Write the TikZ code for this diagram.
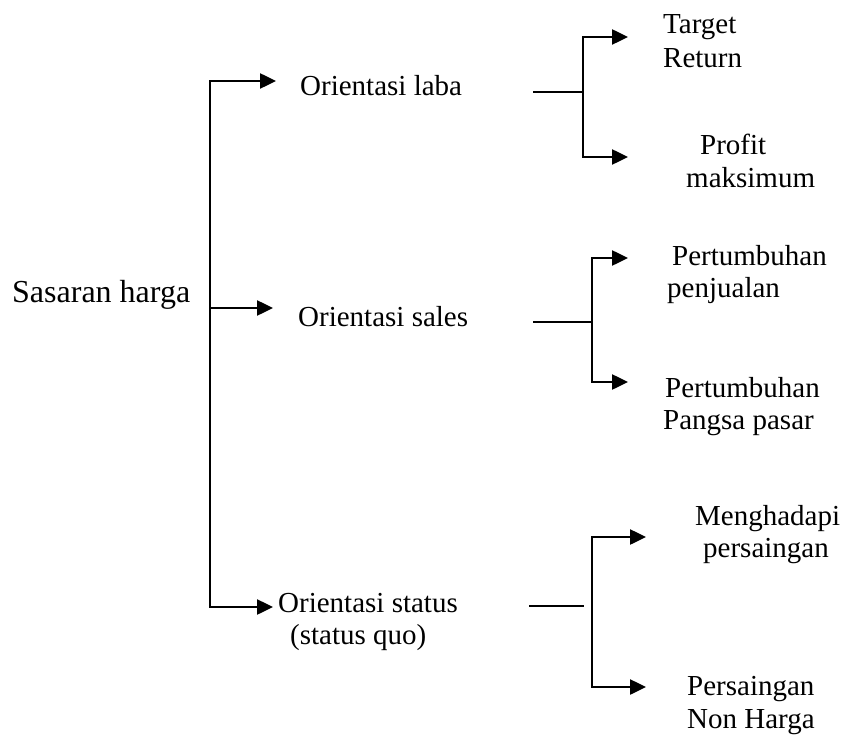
\documentclass[tikz,border=0pt]{standalone}
\usepackage{fontspec}
\setmainfont{Liberation Serif}
\usetikzlibrary{arrows.meta}
\begin{document}
\begin{tikzpicture}[x=1pt,y=-1pt,
  lbl/.style={anchor=base west, inner sep=0pt, font=\fontsize{29}{34}\selectfont},
  big/.style={anchor=base west, inner sep=0pt, font=\fontsize{32}{38}\selectfont},
  conn/.style={line width=2.5pt},
  stem/.style={line width=1.6pt},
  arr/.style={conn,-{Triangle[length=16pt,width=15pt]}}]
\useasboundingbox (0,0) rectangle (845,735);

% texts
\node[big] (root) at (12,302) {Sasaran harga};
\node[lbl] (laba) at (300,96) {Orientasi laba};
\node[lbl] (sales) at (298,326) {Orientasi sales};
\node[lbl] (status) at (278,612) {Orientasi status};
\node[lbl] (quo) at (290,644) {(status quo)};

\node[lbl] (tr1) at (663,34) {Target};
\node[lbl] (tr2) at (663,68) {Return};
\node[lbl] (pm1) at (700,155) {Profit};
\node[lbl] (pm2) at (686,188) {maksimum};

\node[lbl] (pp1) at (672,265) {Pertumbuhan};
\node[lbl] (pp2) at (667,297) {penjualan};
\node[lbl] (ps1) at (665,397) {Pertumbuhan};
\node[lbl] (ps2) at (663,429) {Pangsa pasar};

\node[lbl] (mp1) at (695,525) {Menghadapi};
\node[lbl] (mp2) at (703,557) {persaingan};
\node[lbl] (nh1) at (687,695) {Persaingan};
\node[lbl] (nh2) at (687,728) {Non Harga};

% main bracket
\coordinate (mj) at (210,308);
\coordinate (t1) at (276,81);
\coordinate (t2) at (273,308);
\coordinate (t3) at (273,607);
\draw[arr] (mj) |- (t1);
\draw[arr] (mj) |- (t3);
\draw[arr] (mj) -- (t2);

% bracket 1
\coordinate (s1a) at (533,92);
\coordinate (j1) at (583,92);
\coordinate (a11) at (628,37);
\coordinate (a12) at (628,157);
\draw[stem] (s1a) -- (j1);
\draw[arr] (j1) |- (a11);
\draw[arr] (j1) |- (a12);

% bracket 2
\coordinate (s2a) at (533,322);
\coordinate (j2) at (592,322);
\coordinate (a21) at (628,258);
\coordinate (a22) at (628,382);
\draw[stem] (s2a) -- (j2);
\draw[arr] (j2) |- (a21);
\draw[arr] (j2) |- (a22);

% bracket 3
\coordinate (s3a) at (529,606);
\coordinate (s3b) at (584,606);
\coordinate (j3) at (592,606);
\coordinate (a31) at (646,537);
\coordinate (a32) at (646,687);
\draw[stem] (s3a) -- (s3b);
\draw[arr] (j3) |- (a31);
\draw[arr] (j3) |- (a32);
\end{tikzpicture}
\end{document}
